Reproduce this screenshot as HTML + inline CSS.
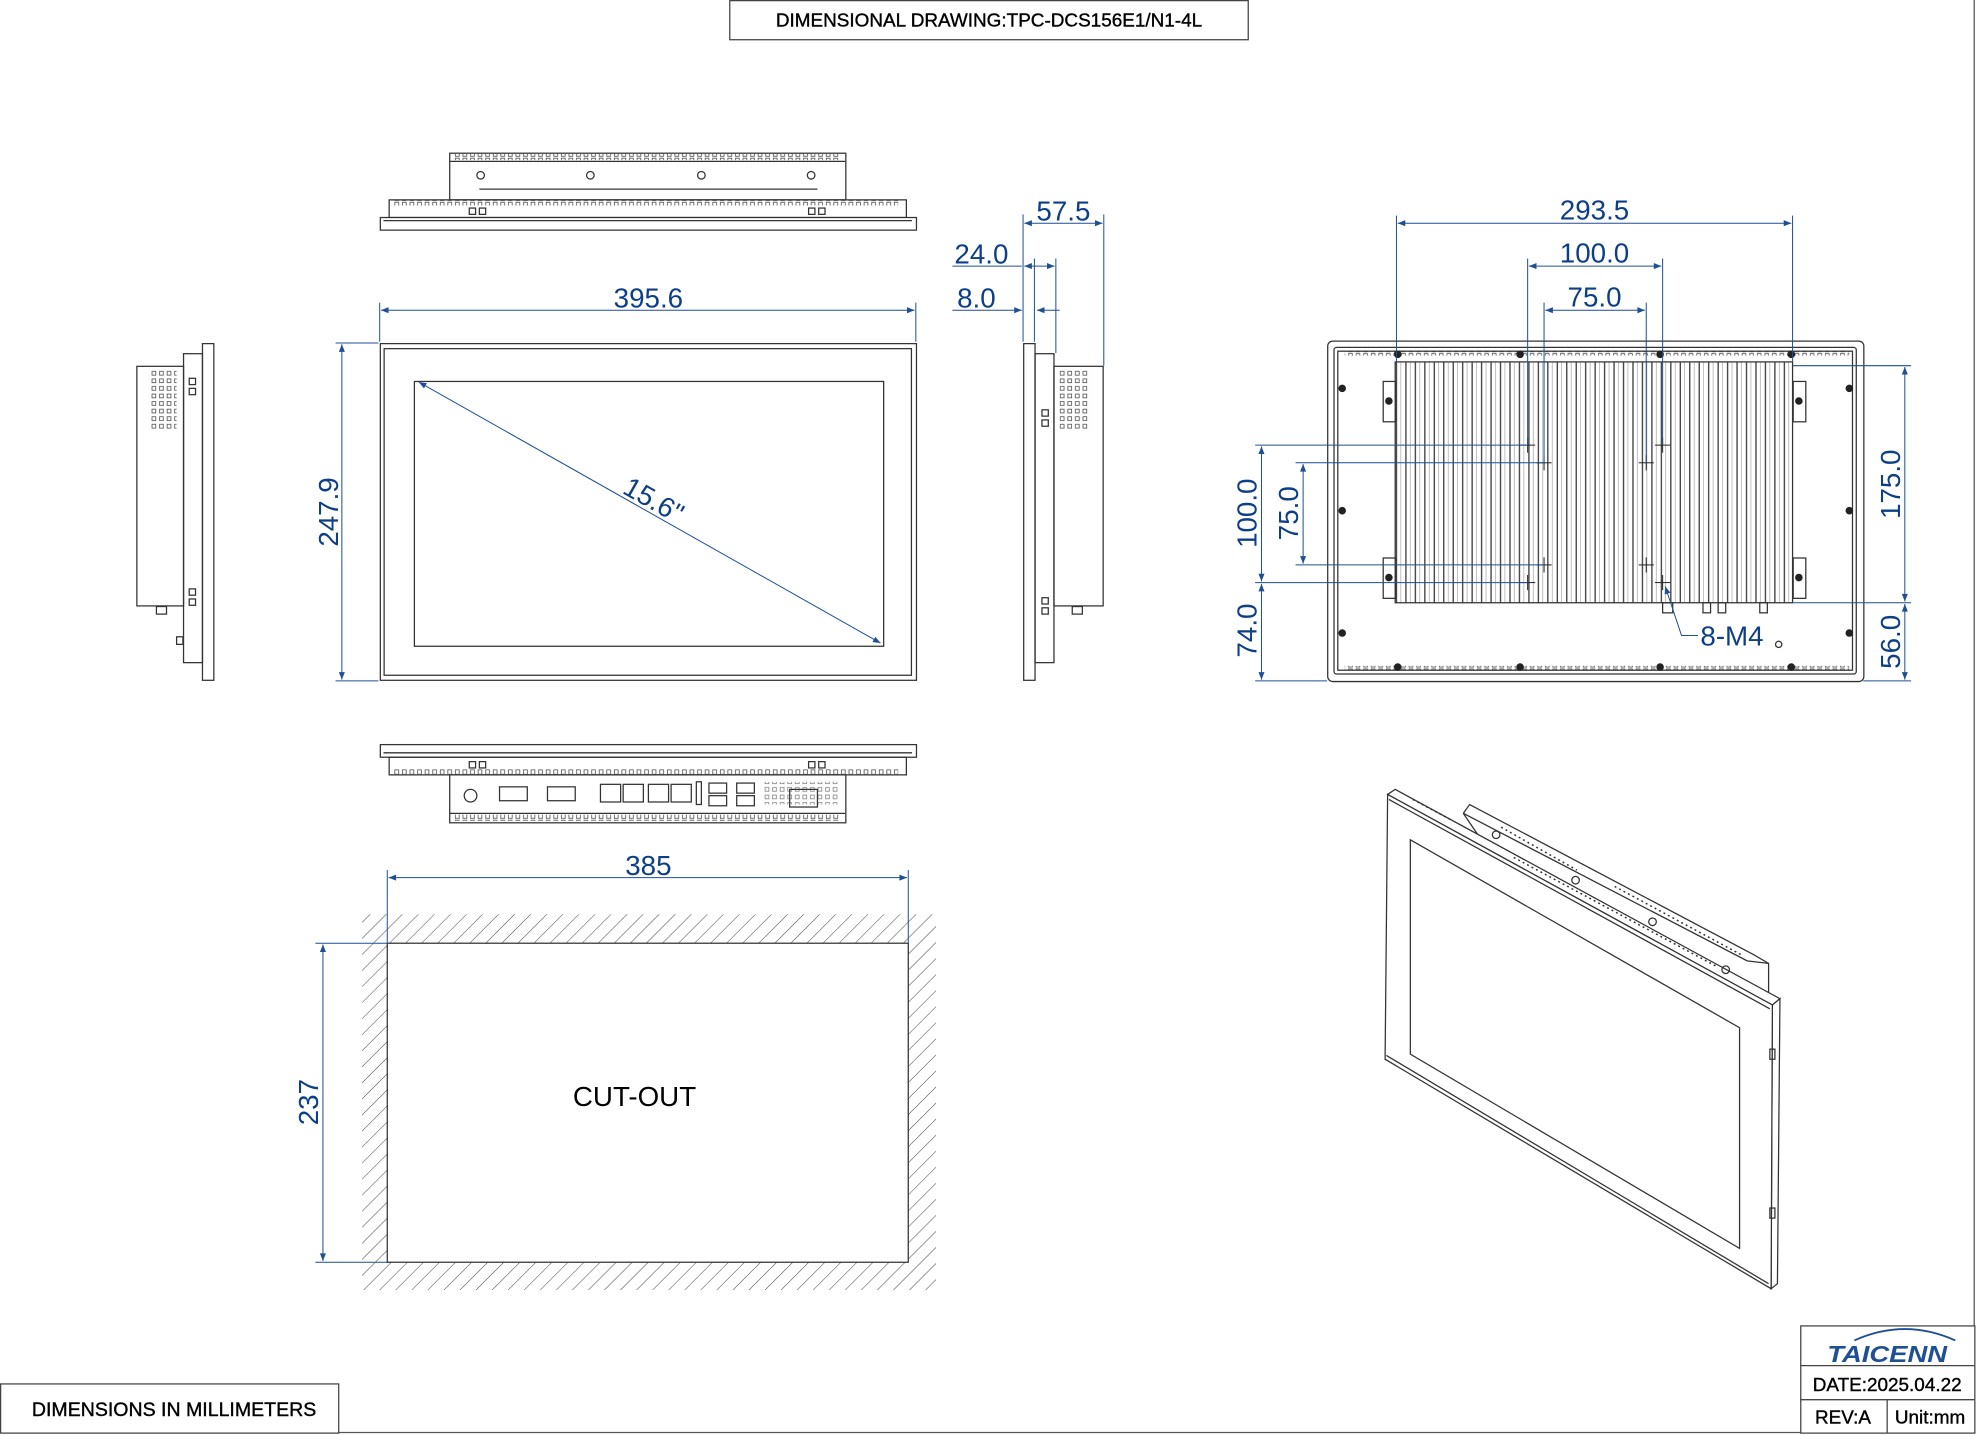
<!DOCTYPE html>
<html><head><meta charset="utf-8"><style>
html,body{margin:0;padding:0;background:#fff;}
svg{display:block;}
text{font-family:"Liberation Sans",sans-serif;}
.d{stroke:#1f4f95;stroke-width:0.8;fill:none;}
.dt{fill:#0d3f86;font-size:22px;}
.k{stroke:#333;stroke-width:1;fill:none;}
.kf{stroke:#333;stroke-width:1;fill:#fff;}
</style></head><body>
<svg width="1978" height="1435" viewBox="0 0 1568 1138" preserveAspectRatio="none" xmlns="http://www.w3.org/2000/svg">
<defs>
<marker id="a" viewBox="0 0 10 10" refX="10" refY="5" markerWidth="9" markerHeight="6" orient="auto-start-reverse" markerUnits="userSpaceOnUse"><path d="M0,1 L10,5 L0,9 z" fill="#1f4f95"/></marker>
<pattern id="h" width="9" height="9" patternUnits="userSpaceOnUse" patternTransform="rotate(45)"><line x1="0" y1="0" x2="0" y2="9" stroke="#444" stroke-width="0.8"/></pattern>
<pattern id="fin" width="7.5" height="10" patternUnits="userSpaceOnUse" x="1106"><line x1="1" y1="0" x2="1" y2="10" stroke="#333" stroke-width="1"/><line x1="4.5" y1="0" x2="4.5" y2="10" stroke="#999" stroke-width="0.5"/></pattern>
<pattern id="vent" width="6" height="6" patternUnits="userSpaceOnUse"><rect x="0.5" y="0.5" width="3" height="3" fill="none" stroke="#444" stroke-width="0.6"/></pattern>
<pattern id="vh" width="6" height="5" patternUnits="userSpaceOnUse"><rect x="1" y="0.5" width="3" height="3.5" fill="none" stroke="#444" stroke-width="0.6"/></pattern>
</defs>
<rect x="0" y="0" width="1568" height="1138" fill="#fff"/>
<line x1="1565" y1="0" x2="1565" y2="1136" stroke="#555" stroke-width="1"/>
<line x1="0" y1="1136" x2="1565" y2="1136" stroke="#555" stroke-width="1"/>
<rect x="578.5" y="0.5" width="411" height="31" fill="#fff" stroke="#444"/>
<text x="784" y="21" font-size="15" text-anchor="middle" stroke="#000" stroke-width="0.3">DIMENSIONAL DRAWING:TPC-DCS156E1/N1-4L</text>
<rect x="0.5" y="1097.5" width="268" height="39" fill="#fff" stroke="#444"/>
<text x="138" y="1123" font-size="15.5" text-anchor="middle" stroke="#000" stroke-width="0.3">DIMENSIONS IN MILLIMETERS</text>
<rect x="1427.5" y="1051.5" width="138" height="85" fill="#fff" stroke="#444"/>
<line x1="1427" y1="1083" x2="1565" y2="1083" stroke="#444"/>
<line x1="1427" y1="1110" x2="1565" y2="1110" stroke="#444"/>
<line x1="1496" y1="1110" x2="1496" y2="1136" stroke="#444"/>
<path d="M1470,1063 Q1510,1045 1550,1063" stroke="#1f4f95" stroke-width="1.5" fill="none"/>
<text x="1496" y="1080" font-size="18" font-weight="bold" font-style="italic" fill="#1f4f95" text-anchor="middle" textLength="95" lengthAdjust="spacingAndGlyphs">TAICENN</text>
<text x="1496" y="1103" font-size="15" text-anchor="middle" stroke="#000" stroke-width="0.3">DATE:2025.04.22</text>
<text x="1461" y="1129" font-size="15" text-anchor="middle" stroke="#000" stroke-width="0.3">REV:A</text>
<text x="1530" y="1129" font-size="15" text-anchor="middle" stroke="#000" stroke-width="0.3">Unit:mm</text>

<rect class="k" x="356.5" y="121.5" width="314" height="37"/>
<line class="k" x1="356" y1="128" x2="670" y2="128"/>
<line class="k" x1="380" y1="150" x2="648" y2="150"/>
<circle class="k" cx="381" cy="139" r="3"/><circle class="k" cx="468" cy="139" r="3"/><circle class="k" cx="556" cy="139" r="3"/><circle class="k" cx="643" cy="139" r="3"/>
<rect x="360" y="122" width="306" height="5" fill="url(#vh)"/>
<rect class="k" x="308.5" y="158.5" width="410" height="14"/>
<rect x="312" y="159" width="400" height="4" fill="url(#vh)"/>
<rect class="kf" x="301.5" y="172.5" width="425" height="10"/>
<line class="k" x1="304" y1="175" x2="723" y2="175"/>
<rect class="k" x="372" y="165" width="5" height="5"/><rect class="k" x="380" y="165" width="5" height="5"/>
<rect class="k" x="641" y="165" width="5" height="5"/><rect class="k" x="649" y="165" width="5" height="5"/>

<rect class="k" x="301.5" y="272.5" width="425" height="267"/>
<rect class="k" x="304.5" y="276.5" width="418" height="259"/>
<rect class="k" x="328.5" y="302.5" width="372" height="210"/>
<line class="d" x1="332" y1="303" x2="698" y2="510" marker-start="url(#a)" marker-end="url(#a)"/>
<text class="dt" x="518" y="404" text-anchor="middle" transform="rotate(29.5 518 397)">15.6"</text>
<line class="d" x1="301" y1="240" x2="301" y2="271"/><line class="d" x1="726" y1="240" x2="726" y2="271"/>
<line class="d" x1="302" y1="246" x2="725" y2="246" marker-start="url(#a)" marker-end="url(#a)"/>
<text class="dt" x="514" y="244" text-anchor="middle">395.6</text>
<line class="d" x1="266" y1="272" x2="300" y2="272"/><line class="d" x1="266" y1="540" x2="300" y2="540"/>
<line class="d" x1="271" y1="273" x2="271" y2="539" marker-start="url(#a)" marker-end="url(#a)"/>
<text class="dt" x="268" y="406" text-anchor="middle" transform="rotate(-90 268 406)">247.9</text>

<rect class="k" x="160.5" y="272.5" width="9" height="267"/>
<rect class="k" x="145.5" y="280.5" width="15" height="245"/>
<rect class="k" x="108.5" y="290.5" width="37" height="190"/>
<rect x="118" y="293" width="22" height="48" fill="url(#vent)"/>
<rect class="k" x="150" y="300" width="5" height="5"/><rect class="k" x="150" y="308" width="5" height="5"/>
<rect class="k" x="150" y="467" width="5" height="5"/><rect class="k" x="150" y="475" width="5" height="5"/>
<rect class="k" x="140" y="505" width="5" height="6"/>
<rect class="k" x="124" y="481" width="8" height="6"/>

<rect class="k" x="811.5" y="272.5" width="9" height="267"/>
<rect class="k" x="820.5" y="280.5" width="15" height="245"/>
<rect class="k" x="835.5" y="290.5" width="39" height="190"/>
<rect x="840" y="293" width="24" height="48" fill="url(#vent)"/>
<rect class="k" x="826" y="325" width="5" height="5"/><rect class="k" x="826" y="333" width="5" height="5"/>
<rect class="k" x="826" y="474" width="5" height="5"/><rect class="k" x="826" y="482" width="5" height="5"/>
<rect class="k" x="850" y="481" width="8" height="6"/>
<line class="d" x1="811" y1="170" x2="811" y2="271"/>
<line class="d" x1="875" y1="170" x2="875" y2="290"/>
<line class="d" x1="820" y1="205" x2="820" y2="271"/>
<line class="d" x1="837" y1="205" x2="837" y2="280"/>
<line class="d" x1="812" y1="177" x2="874" y2="177" marker-start="url(#a)" marker-end="url(#a)"/>
<text class="dt" x="843" y="175" text-anchor="middle">57.5</text>
<line class="d" x1="755" y1="211" x2="810" y2="211"/>
<line class="d" x1="812" y1="211" x2="836" y2="211" marker-start="url(#a)" marker-end="url(#a)"/>
<text class="dt" x="778" y="209" text-anchor="middle">24.0</text>
<line class="d" x1="755" y1="246" x2="810" y2="246" marker-end="url(#a)"/>
<line class="d" x1="840" y1="246" x2="822" y2="246" marker-end="url(#a)"/>
<text class="dt" x="774" y="244" text-anchor="middle">8.0</text>

<rect class="kf" x="301.5" y="590.5" width="425" height="10"/>
<line class="k" x1="304" y1="597" x2="723" y2="597"/>
<rect class="k" x="308.5" y="600.5" width="410" height="14"/>
<rect x="312" y="610" width="400" height="4" fill="url(#vh)"/>
<rect class="k" x="372" y="604" width="5" height="5"/><rect class="k" x="380" y="604" width="5" height="5"/>
<rect class="k" x="641" y="604" width="5" height="5"/><rect class="k" x="649" y="604" width="5" height="5"/>
<rect class="k" x="356.5" y="614.5" width="314" height="38"/>
<line class="k" x1="356" y1="645" x2="670" y2="645"/>
<rect x="360" y="646" width="306" height="5" fill="url(#vh)"/>
<circle class="k" cx="373" cy="631" r="5"/>
<rect class="k" x="396" y="624" width="22" height="11"/>
<rect class="k" x="434" y="624" width="22" height="11"/>
<rect class="k" x="476" y="622" width="16" height="14"/><rect class="k" x="494" y="622" width="16" height="14"/>
<rect class="k" x="514" y="622" width="16" height="14"/><rect class="k" x="532" y="622" width="16" height="14"/>
<rect class="k" x="552" y="620" width="4" height="18"/>
<rect class="k" x="562" y="621" width="14" height="8"/><rect class="k" x="562" y="631" width="14" height="8"/>
<rect class="k" x="584" y="621" width="14" height="8"/><rect class="k" x="584" y="631" width="14" height="8"/>
<rect class="k" x="626" y="626" width="22" height="14"/>
<rect x="604" y="620" width="60" height="18" fill="url(#vent)" opacity="0.7"/>

<rect class="k" x="1052.5" y="270.5" width="425" height="270" rx="4"/>
<rect class="k" x="1057.5" y="275.5" width="414" height="259" rx="2"/>
<rect class="k" x="1060.5" y="278.5" width="408" height="253"/>
<rect x="1066" y="278" width="400" height="4" fill="url(#vh)"/>
<rect x="1066" y="528" width="400" height="4" fill="url(#vh)"/>
<rect x="1106" y="287" width="315" height="191" fill="url(#fin)" stroke="#333" stroke-width="1"/>
<rect class="k" x="1096.5" y="302.5" width="10" height="32"/><rect class="k" x="1096.5" y="442.5" width="10" height="32"/>
<rect class="k" x="1421.5" y="302.5" width="10" height="32"/><rect class="k" x="1421.5" y="442.5" width="10" height="32"/>
<g fill="#222">
<circle cx="1101" cy="318" r="3"/><circle cx="1101" cy="458" r="3"/><circle cx="1426" cy="318" r="3"/><circle cx="1426" cy="458" r="3"/>
<circle cx="1064" cy="308" r="3"/><circle cx="1064" cy="405" r="3"/><circle cx="1064" cy="502" r="3"/>
<circle cx="1466" cy="308" r="3"/><circle cx="1466" cy="405" r="3"/><circle cx="1466" cy="502" r="3"/>
<circle cx="1108" cy="281" r="3"/><circle cx="1205" cy="281" r="3"/><circle cx="1316" cy="281" r="3"/><circle cx="1420" cy="281" r="3"/>
<circle cx="1108" cy="529" r="3"/><circle cx="1205" cy="529" r="3"/><circle cx="1316" cy="529" r="3"/><circle cx="1420" cy="529" r="3"/>
</g>
<g stroke="#222" stroke-width="0.8">
<line x1="1205" y1="353" x2="1217" y2="353"/><line x1="1211" y1="347" x2="1211" y2="359"/>
<line x1="1218" y1="367" x2="1230" y2="367"/><line x1="1224" y1="361" x2="1224" y2="373"/>
<line x1="1299" y1="367" x2="1311" y2="367"/><line x1="1305" y1="361" x2="1305" y2="373"/>
<line x1="1312" y1="353" x2="1324" y2="353"/><line x1="1318" y1="347" x2="1318" y2="359"/>
<line x1="1218" y1="448" x2="1230" y2="448"/><line x1="1224" y1="442" x2="1224" y2="454"/>
<line x1="1299" y1="448" x2="1311" y2="448"/><line x1="1305" y1="442" x2="1305" y2="454"/>
<line x1="1205" y1="462" x2="1217" y2="462"/><line x1="1211" y1="456" x2="1211" y2="468"/>
<line x1="1312" y1="462" x2="1324" y2="462"/><line x1="1318" y1="456" x2="1318" y2="468"/>
</g>
<rect class="k" x="1318" y="478" width="8" height="8"/><rect class="k" x="1350" y="478" width="6" height="8"/><rect class="k" x="1362" y="478" width="6" height="8"/><rect class="k" x="1395" y="478" width="6" height="8"/>
<circle class="k" cx="1410" cy="511" r="2.5"/>
<line class="d" x1="1107" y1="171" x2="1107" y2="287"/><line class="d" x1="1421" y1="171" x2="1421" y2="287"/>
<line class="d" x1="1108" y1="177" x2="1420" y2="177" marker-start="url(#a)" marker-end="url(#a)"/>
<text class="dt" x="1264" y="174" text-anchor="middle">293.5</text>
<line class="d" x1="1211" y1="205" x2="1211" y2="353"/><line class="d" x1="1318" y1="205" x2="1318" y2="353"/>
<line class="d" x1="1212" y1="211" x2="1317" y2="211" marker-start="url(#a)" marker-end="url(#a)"/>
<text class="dt" x="1264" y="208" text-anchor="middle">100.0</text>
<line class="d" x1="1224" y1="240" x2="1224" y2="367"/><line class="d" x1="1305" y1="240" x2="1305" y2="367"/>
<line class="d" x1="1225" y1="246" x2="1304" y2="246" marker-start="url(#a)" marker-end="url(#a)"/>
<text class="dt" x="1264" y="243" text-anchor="middle">75.0</text>
<line class="d" x1="995" y1="353" x2="1211" y2="353"/><line class="d" x1="995" y1="462" x2="1211" y2="462"/>
<line class="d" x1="1027" y1="367" x2="1224" y2="367"/><line class="d" x1="1027" y1="448" x2="1224" y2="448"/>
<line class="d" x1="995" y1="540" x2="1052" y2="540"/>
<line class="d" x1="1000" y1="354" x2="1000" y2="461" marker-start="url(#a)" marker-end="url(#a)"/>
<text class="dt" x="996" y="407" text-anchor="middle" transform="rotate(-90 996 407)">100.0</text>
<line class="d" x1="1033" y1="368" x2="1033" y2="447" marker-start="url(#a)" marker-end="url(#a)"/>
<text class="dt" x="1029" y="407" text-anchor="middle" transform="rotate(-90 1029 407)">75.0</text>
<line class="d" x1="1000" y1="463" x2="1000" y2="539" marker-start="url(#a)" marker-end="url(#a)"/>
<text class="dt" x="996" y="500" text-anchor="middle" transform="rotate(-90 996 500)">74.0</text>
<line class="d" x1="1421" y1="290" x2="1515" y2="290"/><line class="d" x1="1421" y1="478" x2="1515" y2="478"/><line class="d" x1="1477" y1="540" x2="1515" y2="540"/>
<line class="d" x1="1510" y1="291" x2="1510" y2="477" marker-start="url(#a)" marker-end="url(#a)"/>
<text class="dt" x="1506" y="384" text-anchor="middle" transform="rotate(-90 1506 384)">175.0</text>
<line class="d" x1="1510" y1="479" x2="1510" y2="539" marker-start="url(#a)" marker-end="url(#a)"/>
<text class="dt" x="1506" y="509" text-anchor="middle" transform="rotate(-90 1506 509)">56.0</text>
<polyline class="d" points="1346,504 1333,504 1320,465" marker-end="url(#a)"/>
<text class="dt" x="1373" y="512" text-anchor="middle">8-M4</text>

<path d="M287,725 H742 V1023 H287 Z M307,748 V1001 H720 V748 Z" fill="url(#h)" fill-rule="evenodd"/>
<rect class="k" x="307" y="748" width="413" height="253"/>
<line class="d" x1="307" y1="690" x2="307" y2="748"/><line class="d" x1="720" y1="690" x2="720" y2="748"/>
<line class="d" x1="308" y1="696" x2="719" y2="696" marker-start="url(#a)" marker-end="url(#a)"/>
<text class="dt" x="514" y="694" text-anchor="middle">385</text>
<line class="d" x1="250" y1="748" x2="307" y2="748"/><line class="d" x1="250" y1="1001" x2="307" y2="1001"/>
<line class="d" x1="256" y1="749" x2="256" y2="1000" marker-start="url(#a)" marker-end="url(#a)"/>
<text class="dt" x="252" y="874" text-anchor="middle" transform="rotate(-90 252 874)">237</text>
<text x="503" y="877" font-size="22" text-anchor="middle">CUT-OUT</text>

<polygon class="kf" points="1160,645 1385,762 1402,764 1402,795 1177,670" />
<polyline class="k" points="1160,645 1165,638 1390,757 1402,764"/>
<polygon class="kf" points="1100,630 1106,626 1411,792 1405,797"/>
<polygon class="kf" points="1405,797 1411,792 1409,1018 1404,1022"/>
<polygon class="kf" points="1100,630 1405,797 1404,1022 1098,840"/>
<line class="k" x1="1101" y1="634" x2="1403" y2="800"/>
<line class="k" x1="1099" y1="837" x2="1402" y2="1018"/>
<polygon class="k" points="1118,666 1379,815 1379,990 1118,836"/>
<g stroke="#333" stroke-width="1.2" stroke-dasharray="1.5 2.5">
<line x1="1120" y1="634" x2="1150" y2="650"/><line x1="1200" y1="680" x2="1360" y2="766"/>
<line x1="1190" y1="656" x2="1250" y2="690"/><line x1="1280" y1="703" x2="1380" y2="757"/>
</g>
<circle class="k" cx="1186" cy="662" r="3"/><circle class="k" cx="1249" cy="698" r="3"/><circle class="k" cx="1310" cy="731" r="3"/><circle class="k" cx="1368" cy="769" r="3"/>
<rect class="k" x="1403" y="832" width="4" height="8"/><rect class="k" x="1403" y="958" width="4" height="8"/>
</svg>
</body></html>
